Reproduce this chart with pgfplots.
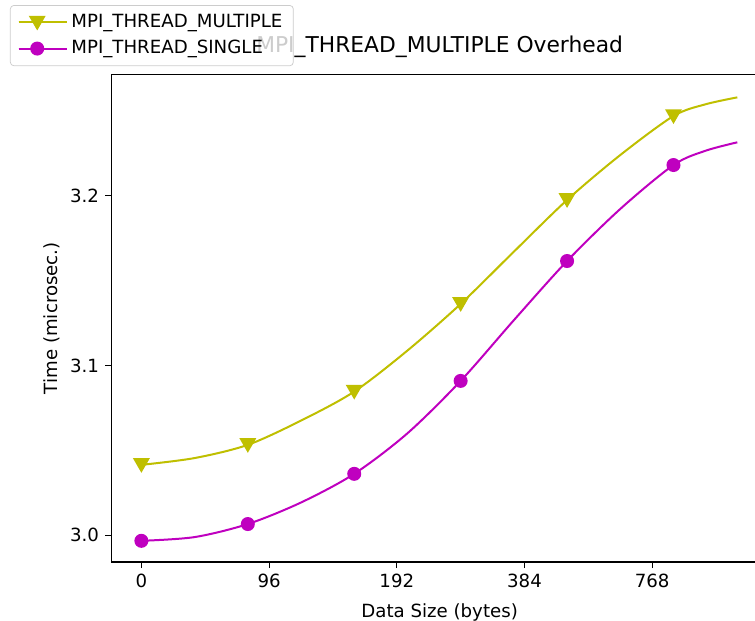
\documentclass[border=0pt]{standalone}
\usepackage{fontspec}
\setmainfont{DejaVu Sans}
\usepackage{pgfplots}
\pgfplotsset{compat=1.18}
\definecolor{mplyellow}{rgb}{0.75,0.75,0}
\definecolor{mplmagenta}{rgb}{0.75,0,0.75}

\begin{document}
\begin{tikzpicture}
\begin{axis}[
    name=ax, at={(0,0)}, anchor=south west,
    scale only axis,
    width=354.2pt, height=268.4pt,
    xmin=-1.41, xmax=28.83,
    ymin=2.9841, ymax=3.2717,
    axis x line*=box, axis y line*=left,
    xtick pos=left,
    xtick={0,6,12,18,24},
    xticklabels={0,96,192,384,768},
    ytick={3.0,3.1,3.2},
    yticklabels={3.0,3.1,3.2},
    tick align=outside,
    major tick length=3.3pt,
    every tick/.style={black, line width=0.6pt},
    axis line style={black, line width=0.6pt},
    /pgf/number format/assume math mode=true,
    tick label style={font=\fontsize{10}{12}\selectfont},
    xlabel={Data Size (bytes)},
    ylabel={Time (microsec.)},
    label style={font=\fontsize{10}{12}\selectfont},
    every axis x label/.style={at={(axis description cs:0.510,-0.113)}, anchor=base},
    every axis y label/.style={at={(axis description cs:-0.092,0.5)}, rotate=90, anchor=center},
    title={MPI\_THREAD\_MULTIPLE Overhead},
    title style={at={(axis description cs:0.510,1.022)}, anchor=base, font=\fontsize{12}{14}\selectfont},
    legend style={at={(axis description cs:-0.1576,1.142)}, anchor=north west,
        draw=black!20, rounded corners=2pt, fill=white, fill opacity=0.8, text opacity=1,
        font=\fontsize{10}{12}\selectfont, row sep=1.5pt, inner xsep=4pt, inner ysep=3pt},
    legend cell align=left,
    legend image code/.code={%
        \path (0pt,0pt) -- (26.5pt,0pt);
        \draw[#1, mark indices={2}, fill opacity=1] plot coordinates {(0pt,0pt) (10.25pt,0pt) (20.5pt,0pt)};},
]
% MPI_THREAD_MULTIPLE
\addplot[color=mplyellow, line width=1.1pt, smooth, mark=triangle*, mark size=4.3pt,
    mark options={yshift=1pt, rotate=180, fill=mplyellow, draw=mplyellow},
    mark indices={1,3,5,7,9,11}] coordinates {
    (0,3.0414) (2.5,3.0454) (5,3.0532) (7.5,3.0675) (10,3.0846) (12.5,3.1088)
    (15,3.1363) (17.5,3.1671) (20,3.1976) (22.5,3.2241) (25,3.2471) (26.5,3.2540) (28,3.2581)
};
\addlegendentry{MPI\_THREAD\_MULTIPLE}
% MPI_THREAD_SINGLE
\addplot[color=mplmagenta, line width=1.1pt, smooth, mark=*, mark size=3.3pt,
    mark options={fill=mplmagenta, draw=mplmagenta},
    mark indices={1,3,5,7,9,11}] coordinates {
    (0,2.9966) (2.5,2.9988) (5,3.0065) (7.5,3.0192) (10,3.0361) (12.5,3.0600)
    (15,3.0909) (17.5,3.1267) (20,3.1616) (22.5,3.1923) (25,3.2182) (26.5,3.2266) (28,3.2316)
};
\addlegendentry{MPI\_THREAD\_SINGLE}
\end{axis}
\pgfresetboundingbox
\path[use as bounding box] (-61.3pt,-32.3pt) rectangle (354.2pt,309.3pt);
\end{tikzpicture}
\end{document}
